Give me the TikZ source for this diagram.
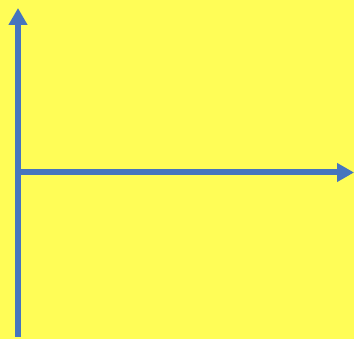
\documentclass[tikz,border=0pt]{standalone}
\usetikzlibrary{arrows.meta, positioning, backgrounds}
\usepackage{xcolor}
\definecolor{bgyellow}{RGB}{255, 253, 87}
\definecolor{axisblue}{RGB}{70, 117, 190}

\begin{document}
\begin{tikzpicture}[
  x=1pt, y=1pt,
  axis/.style={draw=axisblue, line width=6pt, -{Triangle[length=17pt, width=18pt]}},
]
  \fill[bgyellow] (0, 0) rectangle (354, 339);
  \useasboundingbox (0, 0) rectangle (354, 339);

  \coordinate (ybot) at (18, 2);
  \coordinate (ytop) at (18, 331);
  \coordinate (xstart) at (15, 166.5);
  \coordinate (xend) at (354, 166.5);

  \draw[axis] (ybot) -- (ytop);
  \draw[axis] (xstart) -- (xend);
\end{tikzpicture}
\end{document}
